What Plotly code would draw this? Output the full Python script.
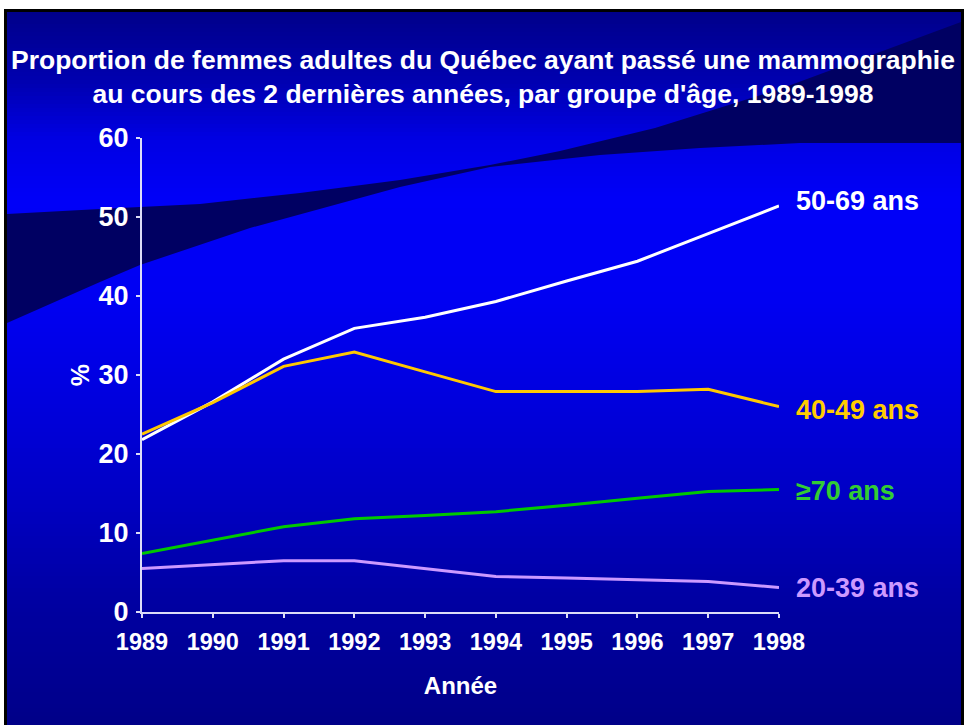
import plotly.graph_objects as go

# ---------------- data ----------------
years = [1989, 1990, 1991, 1992, 1993, 1994, 1995, 1996, 1997, 1998]
year_labels = [str(y) for y in years]

age_50_69 = [21.8, 26.6, 32.0, 35.9, 37.3, 39.3, 41.9, 44.4, 47.9, 51.4]
age_40_49 = [22.5, 26.5, 31.1, 32.9, 30.4, 27.9, 27.9, 27.9, 28.2, 26.0]
age_70_plus = [7.4, 9.1, 10.8, 11.8, 12.2, 12.7, 13.5, 14.4, 15.25, 15.5]
age_20_39 = [5.5, 6.0, 6.5, 6.5, 5.5, 4.5, 4.3, 4.1, 3.85, 3.1]

series_names = ["50-69 ans", "40-49 ans", "\u226570 ans", "20-39 ans"]
series_values = [age_50_69, age_40_49, age_70_plus, age_20_39]

title_text = ("Proportion de femmes adultes du Québec ayant passé une mammographie"
              "<br>au cours des 2 dernières années, par groupe d'âge, 1989-1998")

# ---------------- styling ----------------
W, H = 964, 725
L, R, T, B = 142, 779, 138, 612   # plot area in pixels
FONT = "Liberation Sans, Arial, sans-serif"

line_colors = ["#FFFFFF", "#FFC800", "#00C800", "#CC99FF"]
label_colors = ["#FFFFFF", "#FFCC00", "#33CC33", "#CC99FF"]
label_yshift = [5, -3, -1, 0]


def px(x):
    return (x - L) / (R - L)


def py(y):
    return (B - y) / (B - T)


def lerp_color(stops, y):
    for (y0, c0), (y1, c1) in zip(stops, stops[1:]):
        if y0 <= y <= y1:
            t = (y - y0) / (y1 - y0)
            c = [round(a + (b - a) * t) for a, b in zip(c0, c1)]
            return "rgb(%d,%d,%d)" % tuple(c)
    return "rgb(%d,%d,%d)" % tuple(stops[-1][1])


shapes = []
# black frame
shapes.append(dict(type="rect", xref="paper", yref="paper", layer="below",
                   x0=px(4), x1=px(964), y0=py(9), y1=py(725),
                   fillcolor="black", line=dict(width=0)))
# vertical gradient background
grad = [(12, (0, 0, 138)), (80, (0, 0, 175)), (140, (0, 0, 228)), (200, (0, 0, 248)),
        (300, (0, 0, 242)), (400, (0, 0, 222)), (500, (0, 0, 195)), (600, (0, 0, 162)),
        (725, (0, 0, 136))]
step = 4
yy = 12
while yy < 725:
    y2 = min(yy + step, 725)
    shapes.append(dict(type="rect", xref="paper", yref="paper", layer="below",
                       x0=px(7), x1=px(961), y0=py(yy), y1=py(y2 + 0.6),
                       fillcolor=lerp_color(grad, (yy + y2) / 2), line=dict(width=0)))
    yy = y2

# dark swoosh band
curve_a = [(7, 214), (100, 209), (200, 204), (300, 193), (400, 180), (490, 165),
           (560, 151), (655, 128), (780, 89), (961, 22)]
curve_b = [(961, 143), (800, 143), (700, 148), (600, 155), (490, 167), (400, 187),
           (250, 228), (140, 265), (100, 282), (7, 323)]
pts = curve_a + curve_b
path = "M " + " L ".join("%.5f,%.5f" % (px(x), py(y)) for x, y in pts) + " Z"
shapes.append(dict(type="path", xref="paper", yref="paper", layer="below", path=path,
                   fillcolor="#000062", line=dict(width=0)))

fig = go.Figure()
for name, vals, col in zip(series_names, series_values, line_colors):
    fig.add_trace(go.Scatter(x=years, y=vals, mode="lines", name=name,
                             line=dict(color=col, width=3), showlegend=False,
                             hoverinfo="skip"))

annotations = []
for name, vals, col, ys in zip(series_names, series_values, label_colors, label_yshift):
    annotations.append(dict(x=years[-1], y=vals[-1], xref="x", yref="y", text=name,
                            showarrow=False, xanchor="left", yanchor="middle",
                            xshift=15, yshift=ys,
                            font=dict(family=FONT, size=27, color=col, weight="bold")))
annotations.append(dict(x=px(483), y=py(77), xref="paper", yref="paper", text=title_text,
                        showarrow=False, xanchor="center", yanchor="middle", align="center",
                        font=dict(family=FONT, size=26.5, color="white", weight="bold")))

axis_col = "#DCDCF8"
fig.update_layout(
    width=W, height=H,
    margin=dict(l=L, r=W - R, t=T, b=H - B, pad=0),
    paper_bgcolor="white", plot_bgcolor="rgba(0,0,0,0)",
    shapes=shapes, annotations=annotations, showlegend=False,
    xaxis=dict(range=[years[0], years[-1]], tickvals=years, ticktext=year_labels,
               showgrid=False, zeroline=False, showline=True, linecolor=axis_col,
               linewidth=2, ticks="outside", ticklen=4, tickwidth=2, tickcolor=axis_col,
               ticklabelstandoff=4,
               tickfont=dict(family=FONT, size=23.5, color="white", weight="bold"),
               title=dict(text="Année", standoff=23,
                          font=dict(family=FONT, size=24, color="white", weight="bold"))),
    yaxis=dict(range=[0, 60], dtick=10, showgrid=False, zeroline=False, showline=True,
               linecolor=axis_col, linewidth=2, ticks="outside", ticklen=4, tickwidth=2,
               tickcolor=axis_col, ticklabelstandoff=2,
               tickfont=dict(family=FONT, size=27, color="white", weight="bold"),
               title=dict(text="%", standoff=2,
                          font=dict(family=FONT, size=25, color="white", weight="bold"))),
)

fig.write_html("out.html", config={"displayModeBar": False},
               post_script="document.body.style.margin='0';document.body.style.overflow='hidden';")
